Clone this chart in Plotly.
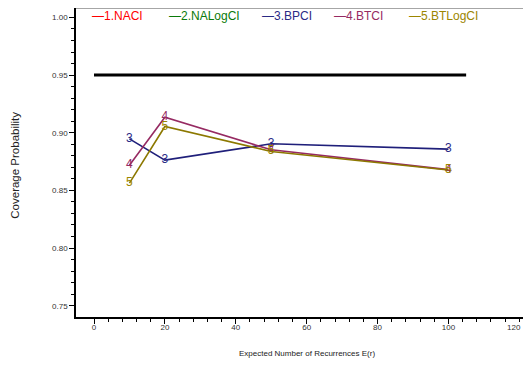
import plotly.graph_objects as go

# ------------------------------------------------------------
# DATA
# ------------------------------------------------------------

recurrences = [10, 20, 50, 100]
bpci = [0.8947, 0.8763, 0.8904, 0.8858]
btci = [0.8719, 0.9135, 0.8852, 0.8680]
btlogci = [0.8563, 0.9054, 0.8838, 0.8677]

nominal_x = [0, 105]
nominal_y = [0.95, 0.95]

legend_names = ["1.NACI", "2.NALogCI", "3.BPCI", "4.BTCI", "5.BTLogCI"]
legend_colors = ["#ff0000", "#0a7a0a", "#2a2a85", "#962a62", "#9c8600"]
legend_pos = [0.030, 0.200, 0.405, 0.563, 0.728]

x_ticks = [0, 20, 40, 60, 80, 100, 120]
x_ticktext = ["0", "20", "40", "60", "80", "100", ""]   # "120" added below
y_ticks = [0.75, 0.80, 0.85, 0.90, 0.95, 1.00]

FONT = "Liberation Sans, Arial, sans-serif"

fig = go.Figure()

# nominal level
fig.add_trace(go.Scatter(
    x=nominal_x, y=nominal_y, mode="lines",
    line=dict(color="black", width=3), showlegend=False
))

# interval series, drawn with their number as marker
series = [
    ("3", bpci, "#1f1f7a", "#2a2a85"),
    ("4", btci, "#962a62", "#962a62"),
    ("5", btlogci, "#8c7800", "#9c8600"),
]
for label, vals, lc, tc in series:
    fig.add_trace(go.Scatter(
        x=recurrences, y=vals, mode="lines+text",
        text=[label] * len(vals), textposition="middle center",
        textfont=dict(family=FONT, size=12, color=tc),
        line=dict(color=lc, width=1.6), showlegend=False,
        cliponaxis=False
    ))

# legend drawn as coloured text along the top
for name, col, px in zip(legend_names, legend_colors, legend_pos):
    fig.add_annotation(
        x=px, y=0.974, xref="paper", yref="paper",
        text="\u2014" + name, showarrow=False,
        xanchor="left", yanchor="middle",
        font=dict(family=FONT, size=12, color=col)
    )

# last x tick label, nudged left so it stays inside the page
fig.add_annotation(
    x=x_ticks[-1], y=-0.0324, xref="x", yref="paper",
    text=str(x_ticks[-1]), showarrow=False, xshift=-5,
    xanchor="center", yanchor="middle",
    font=dict(family=FONT, size=8, color="#333333")
)

# axis titles
fig.add_annotation(
    x=-0.136, y=0.49, xref="paper", yref="paper",
    text="Coverage Probability", textangle=-90, showarrow=False,
    xanchor="center", yanchor="middle",
    font=dict(family=FONT, size=11.5, color="#222222")
)
fig.add_annotation(
    x=0.5077, y=-0.1197, xref="paper", yref="paper",
    text="Expected Number of Recurrences E(r)", showarrow=False,
    xanchor="center", yanchor="middle",
    font=dict(family=FONT, size=8, color="#222222")
)

# gray top frame
fig.add_shape(type="line", xref="paper", yref="paper",
              x0=0, x1=1, y0=1, y1=1,
              line=dict(color="#888888", width=1.5))

fig.update_xaxes(
    range=[-5.08, 123.3], tickvals=x_ticks, ticktext=x_ticktext,
    automargin=False, ticklabelstandoff=-3,
    ticks="outside", ticklen=5, tickwidth=1, tickcolor="black",
    showline=True, linecolor="black", linewidth=1.5,
    showgrid=False, zeroline=False,
    tickfont=dict(family=FONT, size=8, color="#333333"),
    minor=dict(tickvals=list(range(4, 124, 4)), ticks="outside",
               ticklen=3, tickcolor="black", showgrid=False)
)
fig.update_yaxes(
    range=[0.7402, 1.0082], tickvals=y_ticks, tickformat=".2f",
    automargin=False,
    ticks="outside", ticklen=5, tickwidth=1, tickcolor="black",
    showline=True, linecolor="black", linewidth=1.5,
    showgrid=False, zeroline=False,
    tickfont=dict(family=FONT, size=8, color="#333333"),
    minor=dict(tickvals=[round(0.75 + 0.01 * i, 2) for i in range(26)],
               ticks="outside", ticklen=3, tickcolor="black",
               showgrid=False)
)

# page body has an 8px margin, so the figure is sized to the space left
fig.update_layout(
    width=523, height=350,
    margin=dict(l=68, r=0, t=0, b=41),
    plot_bgcolor="white", paper_bgcolor="white",
    showlegend=False
)

fig.write_html("out.html")
